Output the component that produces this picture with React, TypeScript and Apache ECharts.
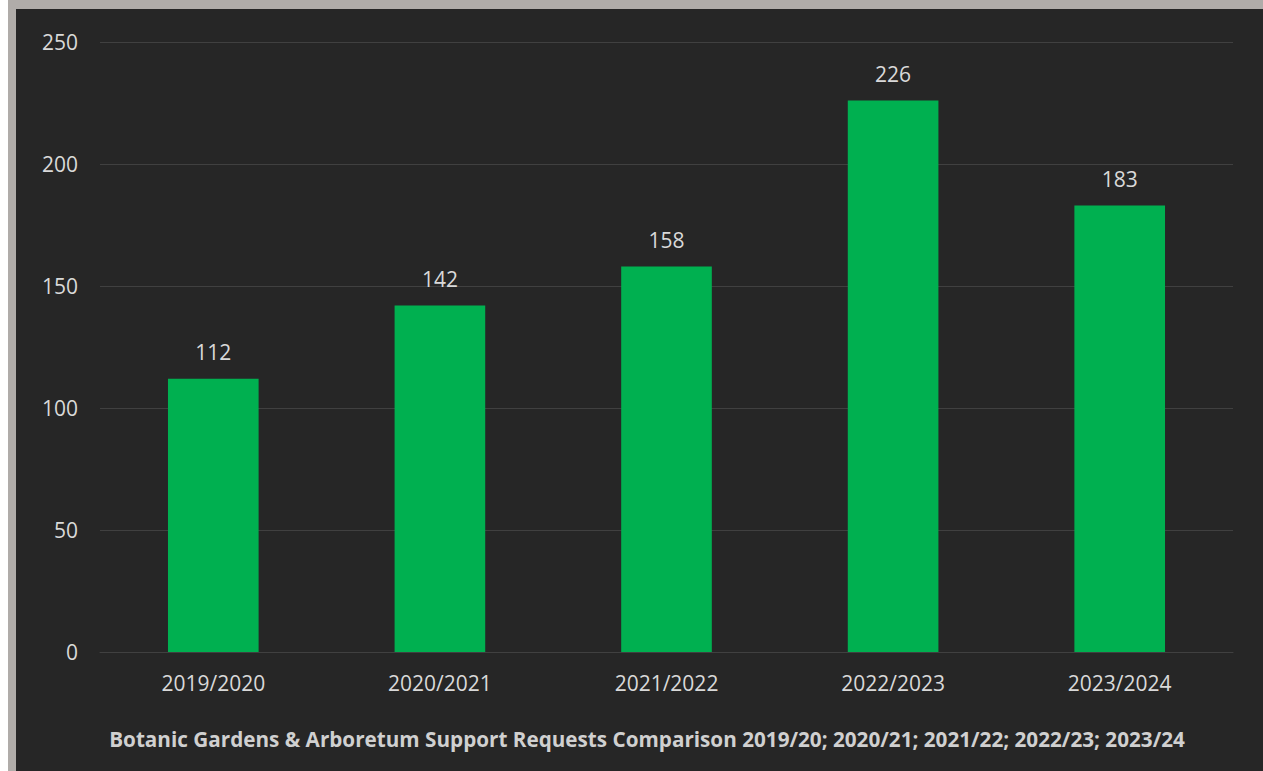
import React, { useEffect, useRef } from "react";
import * as echarts from "echarts";

const categories = ["2019/2020", "2020/2021", "2021/2022", "2022/2023", "2023/2024"];
const requests = [112, 142, 158, 226, 183];
const yTicks = [0, 50, 100, 150, 200, 250];
const title = "Botanic Gardens & Arboretum Support Requests Comparison 2019/20; 2020/21; 2021/22; 2022/23; 2023/24";

export default function App() {
  const ref = useRef<HTMLDivElement>(null);
  useEffect(() => {
    if (!ref.current) return;
    const chart = echarts.init(ref.current, undefined, { renderer: "svg" });
    const font = "'Open Sans', 'Noto Sans', sans-serif";
    chart.setOption({
      animation: false,
      backgroundColor: "#262626",
      title: {
        text: title,
        left: 626,
        textAlign: "center",
        bottom: 17,
        textStyle: { color: "#d0d0d0", fontSize: 20.7, fontWeight: "bold", fontFamily: font },
      },
      grid: { left: 84, right: 30, top: 33, bottom: 119, containLabel: false },
      xAxis: {
        type: "category",
        data: categories,
        axisLine: { show: true, lineStyle: { color: "#404040", width: 1 } },
        axisTick: { show: false },
        axisLabel: { color: "#d9d9d9", fontSize: 21, fontFamily: font, margin: 20 },
      },
      yAxis: {
        type: "value",
        min: yTicks[0],
        max: yTicks[yTicks.length - 1],
        interval: 50,
        axisLine: { show: false },
        axisTick: { show: false },
        splitLine: { lineStyle: { color: "#404040", width: 1 } },
        axisLabel: { color: "#d9d9d9", fontSize: 21, fontFamily: font, margin: 22 },
      },
      series: [
        {
          type: "bar",
          data: requests,
          barWidth: "40%",
          itemStyle: { color: "#00b050" },
          label: {
            show: true,
            position: "top",
            distance: 16,
            color: "#d9d9d9",
            fontSize: 21,
            fontFamily: font,
          },
        },
      ],
    });
    return () => chart.dispose();
  }, []);
  return (
    <div style={{ position: "fixed", left: 0, top: 0, width: 1263, height: 771, background: "#ffffff" }}>
      <div style={{ position: "absolute", left: 8, top: 0, width: 1255, height: 771, background: "#b0aca9" }} />
      <div ref={ref} style={{ position: "absolute", left: 16, top: 9, width: 1247, height: 762 }} />
    </div>
  );
}
